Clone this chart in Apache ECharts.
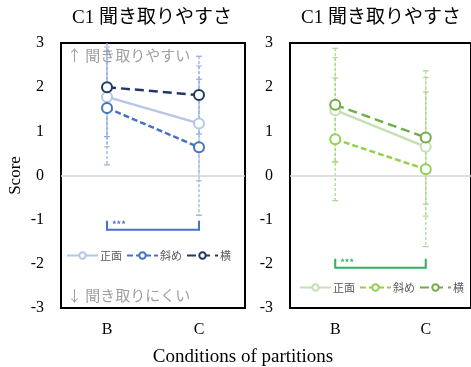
<!DOCTYPE html>
<html><head><meta charset="utf-8">
<script src="https://cdn.jsdelivr.net/npm/echarts@6/dist/echarts.min.js"></script>
<style>html,body{margin:0;padding:0;background:#fff}#c{width:471px;height:367px}</style>
</head><body><div id="c"></div>
<script>
const categories = ['B', 'C'];
const seriesNames = ['正面', '斜め', '横'];
const yTicks = [-3, -2, -1, 0, 1, 2, 3];
// left panel (blue)
const leftFront = [1.78, 1.18];
const leftFrontErr = [1.13, 1.30];
const leftOblique = [1.53, 0.64];
const leftObliqueErr = [1.29, 1.54];
const leftSide = [2.00, 1.82];
const leftSideErr = [1.12, 0.88];
// right panel (green)
const rightFront = [1.48, 0.65];
const rightFrontErr = [1.19, 1.57];
const rightOblique = [0.82, 0.14];
const rightObliqueErr = [1.39, 1.75];
const rightSide = [1.60, 0.86];
const rightSideErr = [1.28, 1.51];
// significance brackets
const sigLeft = ['B', 'C', -1.23, '***'];
const sigRight = ['B', 'C', -2.09, '***'];
const titleText = 'C1 聞き取りやすさ';
const xTitle = 'Conditions of partitions';
const yTitle = 'Score';
const upNote = '↑ 聞き取りやすい';
const downNote = '↓ 聞き取りにくい';

const SERIF = "'Liberation Serif','Times New Roman','Noto Sans CJK JP',serif";
const SANS = "'Noto Sans CJK JP','Noto Sans',sans-serif";
const YMIN = yTicks[0], YMAX = yTicks[yTicks.length - 1];

const chart = echarts.init(document.getElementById('c'), null, {renderer: 'canvas'});
const sigText = {};

function errRender(color) {
  return function (params, api) {
    const x = api.value(0), m = api.value(1), e = api.value(2);
    const hi = m + e, lo = m - e;
    const top = api.coord([x, Math.min(hi, YMAX)]);
    const bot = api.coord([x, Math.max(lo, YMIN)]);
    const hw = 3;
    const dashed = {stroke: color, lineWidth: 1.2, lineDash: [3, 2], fill: null};
    const solid = {stroke: color, lineWidth: 1.2, fill: null};
    const ch = [{type: 'line', shape: {x1: top[0], y1: top[1], x2: bot[0], y2: bot[1]}, style: dashed}];
    if (hi <= YMAX) ch.push({type: 'line', shape: {x1: top[0] - hw, y1: top[1], x2: top[0] + hw, y2: top[1]}, style: solid});
    if (lo >= YMIN) ch.push({type: 'line', shape: {x1: bot[0] - hw, y1: bot[1], x2: bot[0] + hw, y2: bot[1]}, style: solid});
    return {type: 'group', children: ch};
  };
}
function bracketRender(color) {
  return function (params, api) {
    const a = api.coord([api.value(0), api.value(2)]);
    const b = api.coord([api.value(1), api.value(2)]);
    const h = 9;
    const st = {stroke: color, lineWidth: 2, fill: null};
    return {type: 'group', children: [
      {type: 'polyline', shape: {points: [[a[0], a[1] - h], [a[0], a[1]], [b[0], b[1]], [b[0], b[1] - h]]}, style: st},
      {type: 'text', x: a[0] + 5, y: a[1] - 5, style: {text: sigText[params.seriesIndex], fill: color, font: 'bold 9px ' + SANS, textVerticalAlign: 'middle'}}
    ]};
  };
}

function panel(gi, names, means, errs, colors, errColor, dashes, sig, sigColor) {
  const out = [];
  means.forEach((m, k) => {
    const s = {
      type: 'line', name: names[k], xAxisIndex: gi, yAxisIndex: gi,
      data: m, symbol: 'emptyCircle', symbolSize: 10, z: 5,
      lineStyle: {color: colors[k], width: 2.5, type: dashes[k]},
      itemStyle: {color: colors[k], borderWidth: 1.2},
      emphasis: {disabled: true}
    };
    if (k === 0) s.markLine = {silent: true, symbol: 'none', label: {show: false},
      lineStyle: {color: '#d4d4d4', type: 'solid', width: 1.5}, data: [{yAxis: 0}]};
    out.push(s);
  });
  means.forEach((m, k) => {
    out.push({
      type: 'custom', xAxisIndex: gi, yAxisIndex: gi, z: 3, silent: true,
      renderItem: errRender(errColor[k]),
      data: m.map((v, i) => [i, v, errs[k][i]])
    });
  });
  out.push({
    type: 'custom', xAxisIndex: gi, yAxisIndex: gi, z: 4, silent: true,
    renderItem: bracketRender(sigColor),
    data: [[categories.indexOf(sig[0]), categories.indexOf(sig[1]), sig[2]]]
  });
  return out;
}

let series = [];
series = series.concat(panel(0, seriesNames,
  [leftFront, leftOblique, leftSide], [leftFrontErr, leftObliqueErr, leftSideErr],
  ['#b4c7e7', '#4472c4', '#203864'], ['#a9c0e6', '#8faadc', '#8faadc'],
  ['solid', [6, 3], [9, 5]], sigLeft, '#4472c4'));
sigText[series.length - 1] = sigLeft[3];
series = series.concat(panel(1, seriesNames.map(n => n + ' '),
  [rightFront, rightOblique, rightSide], [rightFrontErr, rightObliqueErr, rightSideErr],
  ['#c5e0b4', '#92d050', '#70ad47'], ['#b9dba0', '#a9d88a', '#a9d88a'],
  ['solid', [6, 3], [9, 5]], sigRight, '#2bb35c'));
sigText[series.length - 1] = sigRight[3];

function yAxis(gi, withName) {
  const a = {
    type: 'value', gridIndex: gi, min: YMIN, max: YMAX, interval: 1,
    axisLine: {show: false}, axisTick: {show: false}, splitLine: {show: false},
    axisLabel: {color: '#000', fontSize: 16, fontFamily: SERIF, margin: 17}
  };
  if (withName) Object.assign(a, {name: yTitle, nameLocation: 'middle', nameGap: 37,
    nameTextStyle: {color: '#000', fontSize: 17, fontFamily: SERIF}});
  return a;
}
function xAxis(gi) {
  return {
    type: 'category', gridIndex: gi, data: categories, boundaryGap: true,
    axisLine: {show: false}, axisTick: {show: false}, splitLine: {show: false},
    axisLabel: {color: '#000', fontSize: 16, fontFamily: SERIF, margin: 14}
  };
}
function legend(left, top, names) {
  return {
    left: left, top: top, width: 400, padding: 0, orient: 'horizontal', itemWidth: 31, itemHeight: 8, itemGap: 4, selectedMode: false,
    data: names, formatter: n => n.trim(),
    textStyle: {color: '#595959', fontSize: 11, fontFamily: SANS, padding: [0, 0, 0, -3]}
  };
}

chart.setOption({
  animation: false,
  grid: [
    {left: 61, top: 43, width: 184, height: 265, show: true, borderColor: '#000', borderWidth: 2, backgroundColor: 'transparent'},
    {left: 290, top: 43, width: 184, height: 265, show: true, borderColor: '#000', borderWidth: 2, backgroundColor: 'transparent'}
  ],
  xAxis: [xAxis(0), xAxis(1)],
  yAxis: [yAxis(0, true), yAxis(1, false)],
  legend: [legend(66, 250, seriesNames), legend(299, 282, seriesNames.map(n => n + ' '))],
  series: series,
  graphic: [
    {type: 'text', x: 152, y: 18, style: {text: titleText, font: '19px ' + SERIF, fill: '#000', textAlign: 'center', textVerticalAlign: 'middle'}},
    {type: 'text', x: 381, y: 18, style: {text: titleText, font: '19px ' + SERIF, fill: '#000', textAlign: 'center', textVerticalAlign: 'middle'}},
    {type: 'text', x: 243, y: 357, style: {text: xTitle, font: '19px ' + SERIF, fill: '#000', textAlign: 'center', textVerticalAlign: 'middle'}},
    {type: 'text', x: 67, y: 55, z: 10, style: {text: upNote, font: '15px ' + SANS, fill: '#a0a0a0', textVerticalAlign: 'middle'}},
    {type: 'text', x: 67, y: 295, z: 10, style: {text: downNote, font: '15px ' + SANS, fill: '#a0a0a0', textVerticalAlign: 'middle'}}
  ]
});
</script></body></html>
